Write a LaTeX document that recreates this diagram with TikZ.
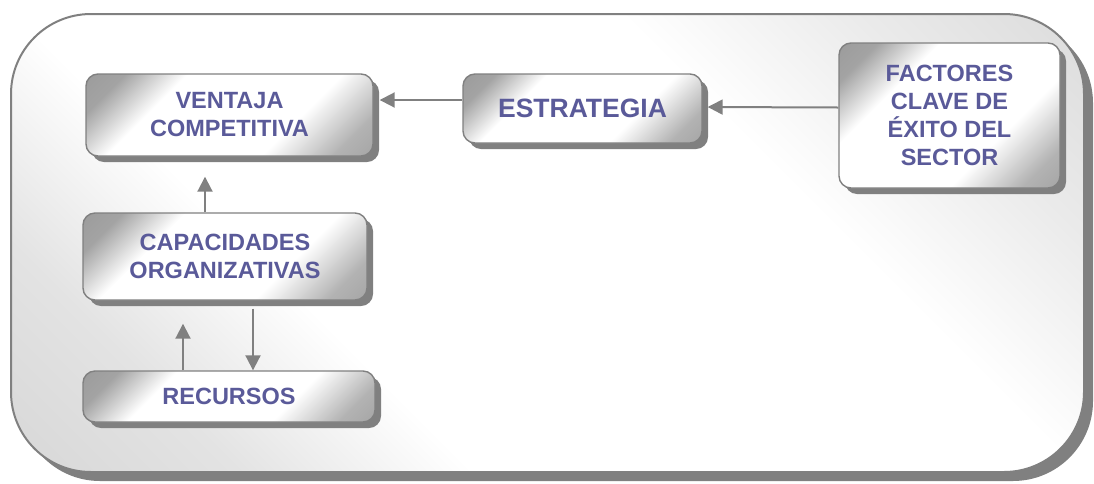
\documentclass[tikz,border=0pt]{standalone}
\usepackage{fontspec}
\setmainfont{Liberation Sans}
\usepackage{tikz}
\usetikzlibrary{arrows.meta,shadows}
\definecolor{labelblue}{RGB}{90,90,153}
\definecolor{edgegray}{RGB}{128,128,128}
\pgfdeclarehorizontalshading{shinybox}{100bp}{color(0bp)=(black!45); color(22bp)=(black!36); color(34bp)=(white); color(64bp)=(white); color(78bp)=(black!30); color(100bp)=(black!45)}
\pgfdeclarehorizontalshading{shinyframe}{100bp}{color(0bp)=(black!22); color(25bp)=(black!11); color(36bp)=(white); color(64bp)=(white); color(75bp)=(black!8); color(100bp)=(black!22)}
\tikzset{
  stepbox/.style={rectangle, rounded corners=12pt, draw=edgegray, line width=1.4pt,
    shade, shading=shinybox, shading angle=-45, inner sep=0pt, align=center,
    text=labelblue, font=\bfseries\fontsize{23.5}{28}\selectfont,
    general shadow={fill=edgegray, draw=none, shadow xshift=6pt, shadow yshift=-6pt}},
  frame/.style={rounded corners=80pt, draw=edgegray, line width=2pt,
    shade, shading=shinyframe, shading angle=45,
    general shadow={fill=edgegray, draw=none, shadow xshift=9pt, shadow yshift=-9pt}},
  link/.style={draw=edgegray, line width=2pt, -{Triangle[length=15pt,width=15pt]}}
}
\begin{document}
\begin{tikzpicture}[x=1pt,y=-1pt]
   \useasboundingbox (0,0) rectangle (1094,483);
   \path[frame] (11,14) rectangle (1084,472);
   \node[stepbox, minimum width=287pt, minimum height=82pt] (vent) at (229.5,115) {VENTAJA\\COMPETITIVA};
   \node[stepbox, minimum width=239pt, minimum height=69pt, font=\bfseries\fontsize{26.5}{30}\selectfont] (estr) at (582.5,108.5) {ESTRATEGIA};
   \node[stepbox, minimum width=221pt, minimum height=145pt] (fact) at (949.5,115.5) {FACTORES\\CLAVE DE\\ÉXITO DEL\\SECTOR};
   \node[stepbox, minimum width=284pt, minimum height=87pt] (cap) at (225,256.5) {CAPACIDADES\\ORGANIZATIVAS};
   \node[stepbox, minimum width=292pt, minimum height=51pt] (rec) at (229,396.5) {RECURSOS};
   \draw[link] ([yshift=8pt]fact.west) -- ([xshift=5pt,yshift=1.5pt]estr.east);
   \draw[link] ([yshift=8.5pt]estr.west) -- ([xshift=6pt,yshift=15pt]vent.east);
   \draw[link] ([xshift=-20pt]cap.north) -- ([xshift=-24.5pt,yshift=-20pt]vent.south);
   \draw[link] ([xshift=-46pt]rec.north) -- ([xshift=-42pt,yshift=-23pt]cap.south);
   \draw[link] ([xshift=28pt,yshift=-8pt]cap.south) -- ([xshift=24pt]rec.north);
\end{tikzpicture}
\end{document}
